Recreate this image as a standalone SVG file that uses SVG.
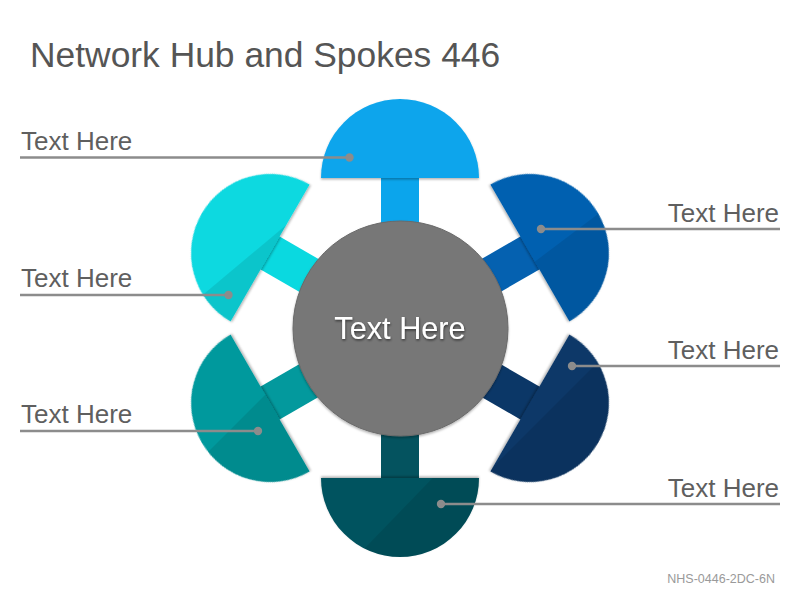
<svg xmlns="http://www.w3.org/2000/svg" width="800" height="600" viewBox="0 0 800 600">
  <style>
    .title { font-family: "Liberation Sans", Arial, sans-serif; font-size: 35.4px; fill: #555555; }
    .label { font-family: "Liberation Sans", Arial, sans-serif; font-size: 26px; fill: #5f5f5f; }
    .hubtext { font-family: "Liberation Sans", Arial, sans-serif; font-size: 30.7px; fill: #ffffff; }
    .footer { font-family: "Liberation Sans", Arial, sans-serif; font-size: 12.5px; fill: #9a9a9a; }
    .leader { stroke: #8c8c8c; stroke-width: 2.5; fill: none; }
    .dot { fill: #8c8c8c; }
    .shade { fill: #000000; fill-opacity: 0.09; }
  </style>
  <defs>
    <path id="half" d="M 321 178 A 79 79 0 0 1 479 178 Z"/>
    <filter id="sh" x="-20%" y="-20%" width="140%" height="140%">
      <feDropShadow dx="0" dy="1.5" stdDeviation="1.2" flood-color="#000" flood-opacity="0.3"/>
    </filter>
    <filter id="tsh" x="-20%" y="-40%" width="140%" height="180%">
      <feDropShadow dx="0.5" dy="1.5" stdDeviation="1" flood-color="#000" flood-opacity="0.55"/>
    </filter>
    <clipPath id="c0" clipPathUnits="userSpaceOnUse"><use href="#half" transform="rotate(0 400 328)"/></clipPath>
    <clipPath id="c60" clipPathUnits="userSpaceOnUse"><use href="#half" transform="rotate(60 400 328)"/></clipPath>
    <clipPath id="c120" clipPathUnits="userSpaceOnUse"><use href="#half" transform="rotate(120 400 328)"/></clipPath>
    <clipPath id="c180" clipPathUnits="userSpaceOnUse"><use href="#half" transform="rotate(180 400 328)"/></clipPath>
    <clipPath id="c240" clipPathUnits="userSpaceOnUse"><use href="#half" transform="rotate(240 400 328)"/></clipPath>
    <clipPath id="c300" clipPathUnits="userSpaceOnUse"><use href="#half" transform="rotate(300 400 328)"/></clipPath>
  </defs>

  <rect width="800" height="600" fill="#ffffff"/>

  <text class="title" x="30" y="67">Network Hub and Spokes 446</text>

  <g id="connectors">
    <rect x="381" y="176" width="38" height="60" fill="#0BA5EC" transform="rotate(0 400 328)"/>
    <rect x="381" y="176" width="38" height="60" fill="#0561B0" transform="rotate(60 400 328)"/>
    <rect x="381" y="176" width="38" height="60" fill="#0B3767" transform="rotate(120 400 328)"/>
    <rect x="381" y="176" width="38" height="60" fill="#04535F" transform="rotate(180 400 328)"/>
    <rect x="381" y="176" width="38" height="60" fill="#03999D" transform="rotate(240 400 328)"/>
    <rect x="381" y="176" width="38" height="60" fill="#0AD9E0" transform="rotate(300 400 328)"/>
  </g>

  <g id="node-top">
    <use href="#half" fill="#0BA5EC" filter="url(#sh)" transform="rotate(0 400 328)"/>
    <rect class="shade" clip-path="url(#c0)" x="-200" y="0" width="400" height="300" transform="translate(363 178) rotate(-45)"/>
  </g>
  <g id="node-top-right">
    <use href="#half" fill="#0561B0" filter="url(#sh)" transform="rotate(60 400 328)"/>
    <g clip-path="url(#c60)"><rect class="shade" x="-200" y="0" width="400" height="300" transform="translate(537 260) rotate(-37)"/></g>
  </g>
  <g id="node-bottom-right">
    <use href="#half" fill="#0B3767" filter="url(#sh)" transform="rotate(120 400 328)"/>
    <g clip-path="url(#c120)"><rect class="shade" x="-200" y="0" width="400" height="300" transform="translate(502 458) rotate(-45)"/></g>
  </g>
  <g id="node-bottom">
    <use href="#half" fill="#04535F" filter="url(#sh)" transform="rotate(180 400 328)"/>
    <g clip-path="url(#c180)"><rect class="shade" x="-200" y="0" width="400" height="300" transform="translate(365 548) rotate(-46)"/></g>
  </g>
  <g id="node-bottom-left">
    <use href="#half" fill="#03999D" filter="url(#sh)" transform="rotate(240 400 328)"/>
    <g clip-path="url(#c240)"><rect class="shade" x="-200" y="0" width="400" height="300" transform="translate(212 448) rotate(-45)"/></g>
  </g>
  <g id="node-top-left">
    <use href="#half" fill="#0AD9E0" filter="url(#sh)" transform="rotate(300 400 328)"/>
    <g clip-path="url(#c300)"><rect class="shade" x="-200" y="0" width="400" height="300" transform="translate(205 293) rotate(-40)"/></g>
  </g>

  <g id="node-hub">
    <circle cx="400.5" cy="328.5" r="107.5" fill="#777777" stroke="#6a6a6a" stroke-width="1" filter="url(#sh)"/>
    <text class="hubtext" x="400" y="338.5" text-anchor="middle" filter="url(#tsh)">Text Here</text>
  </g>

  <g id="label-top">
    <line class="leader" x1="20" y1="157.5" x2="349.5" y2="157.5"/>
    <circle class="dot" cx="349.5" cy="157.5" r="4.2"/>
    <text class="label" x="21" y="149.5">Text Here</text>
  </g>
  <g id="label-top-right">
    <line class="leader" x1="541" y1="229" x2="780" y2="229"/>
    <circle class="dot" cx="541" cy="229" r="4.2"/>
    <text class="label" x="779" y="221.5" text-anchor="end">Text Here</text>
  </g>
  <g id="label-top-left">
    <line class="leader" x1="20" y1="295" x2="228.5" y2="295"/>
    <circle class="dot" cx="228.5" cy="295" r="4.2"/>
    <text class="label" x="21" y="287">Text Here</text>
  </g>
  <g id="label-bottom-right">
    <line class="leader" x1="572" y1="366" x2="780" y2="366"/>
    <circle class="dot" cx="572" cy="366" r="4.2"/>
    <text class="label" x="779" y="358.5" text-anchor="end">Text Here</text>
  </g>
  <g id="label-bottom-left">
    <line class="leader" x1="20" y1="431" x2="258" y2="431"/>
    <circle class="dot" cx="258" cy="431" r="4.2"/>
    <text class="label" x="21" y="423">Text Here</text>
  </g>
  <g id="label-bottom">
    <line class="leader" x1="441" y1="504" x2="780" y2="504"/>
    <circle class="dot" cx="441" cy="504" r="4.2"/>
    <text class="label" x="779" y="496.5" text-anchor="end">Text Here</text>
  </g>

  <text class="footer" x="775" y="583" text-anchor="end">NHS-0446-2DC-6N</text>
</svg>
